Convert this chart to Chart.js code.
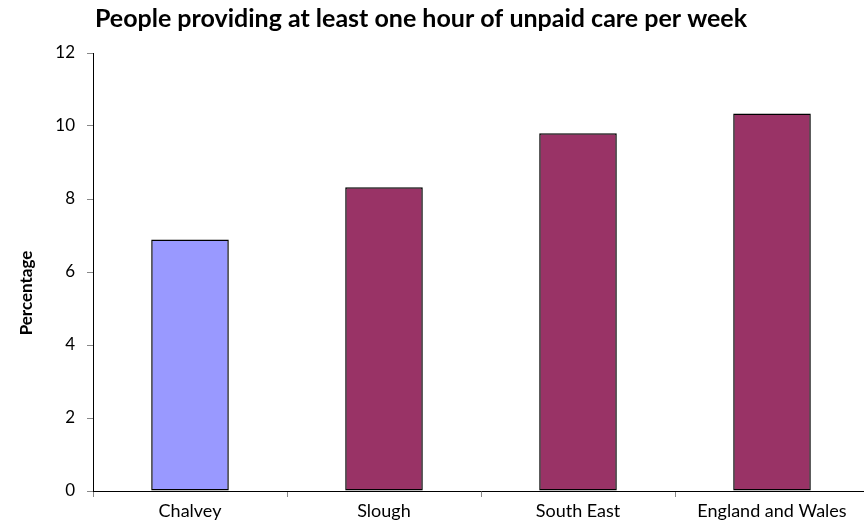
<!DOCTYPE html>
<html>
<head>
<meta charset="utf-8">
<script src="https://cdn.jsdelivr.net/npm/chart.js@4"></script>
<style>
  html, body { margin: 0; padding: 0; background: #fff; overflow: hidden; }
  #wrap { width: 869px; height: 528px; }
</style>
</head>
<body>
<div id="wrap"><canvas id="c"></canvas></div>
<script>
// data
var categories = ['Chalvey', 'Slough', 'South East', 'England and Wales'];
var percentages = [6.89, 8.32, 9.80, 10.34];
var barColors = ['#9999FF', '#993366', '#993366', '#993366'];
var yTicks = [0, 2, 4, 6, 8, 10, 12];
var chartTitle = 'People providing at least one hour of unpaid care per week';
var yTitle = 'Percentage';

var FONT = 'Lato, Carlito, Calibri, sans-serif';

// titles drawn by hand: the reference puts them off the plot centre
var titlesPlugin = {
  id: 'titles',
  afterDraw: function (chart) {
    var ctx = chart.ctx;
    ctx.save();
    ctx.fillStyle = '#000';
    ctx.font = 'bold 25px ' + FONT;
    ctx.textAlign = 'center';
    ctx.textBaseline = 'alphabetic';
    ctx.fillText(chartTitle, 421, 27);

    ctx.translate(27, 293);
    ctx.rotate(-Math.PI / 2);
    ctx.font = 'bold 17px ' + FONT;
    ctx.textBaseline = 'middle';
    ctx.fillText(yTitle, 0, 0);
    ctx.restore();
  }
};

var ctx = document.getElementById('c').getContext('2d');
new Chart(ctx, {
  type: 'bar',
  data: {
    labels: categories,
    datasets: [{
      data: percentages,
      backgroundColor: barColors,
      borderColor: '#000',
      borderWidth: 1.5,
      borderSkipped: false,
      barPercentage: 0.4,
      categoryPercentage: 1
    }]
  },
  options: {
    responsive: true,
    maintainAspectRatio: false,
    animation: false,
    layout: { padding: { left: 34, right: 0, top: 53, bottom: 0 } },
    plugins: {
      legend: { display: false },
      tooltip: { enabled: false },
      title: { display: false }
    },
    scales: {
      x: {
        grid: { display: true, drawOnChartArea: false, drawTicks: true, tickLength: 6, color: '#888', offset: true },
        border: { display: true, color: '#000', width: 1 },
        ticks: { color: '#000', font: { family: FONT, size: 18 }, padding: 3, maxRotation: 0 },
        afterFit: function (s) { s.height = 37; }
      },
      y: {
        min: 0,
        max: 12,
        afterBuildTicks: function (s) { s.ticks = yTicks.map(function (v) { return { value: v }; }); },
        grid: { display: true, drawOnChartArea: false, drawTicks: true, tickLength: 6, color: '#888' },
        border: { display: true, color: '#000', width: 1 },
        ticks: { color: '#000', font: { family: FONT, size: 17 }, padding: 12 },
        afterFit: function (s) { s.width = 59; }
      }
    }
  },
  plugins: [titlesPlugin]
});
</script>
</body>
</html>
